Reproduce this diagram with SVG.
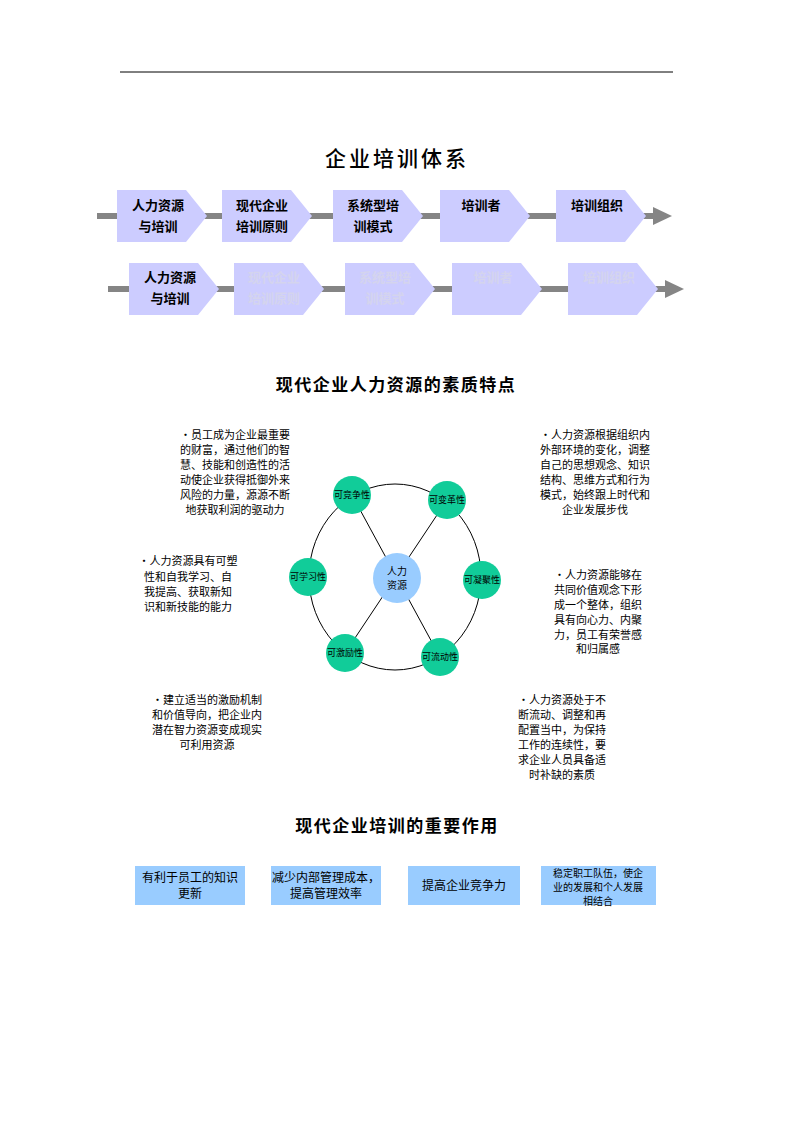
<svg xmlns="http://www.w3.org/2000/svg" width="793" height="1122" viewBox="0 0 793 1122">
<style>
text{font-family:"Noto Sans CJK SC","Liberation Sans",sans-serif;fill:#000}
.ttl{font-weight:bold;text-anchor:middle;font-size:17px;letter-spacing:1.5px}
.main{font-weight:500;text-anchor:middle;font-size:21px;letter-spacing:3px}
.chev{fill:#ccccff}
.ct{font-size:13px;font-weight:bold;text-anchor:middle}
.fade{fill:#d4d4ee}
.arrline{stroke:#858585;stroke-width:6;fill:none}
.arrhead{fill:#858585}
.thin{stroke:#000;stroke-width:1;fill:none}
.grn{fill:#11cc99}
.cl{font-size:9px;text-anchor:middle}
.cc{font-size:10px;text-anchor:middle}
.blk{font-size:11px;text-anchor:middle}
.box{fill:#99ccff}
.bt{font-size:12px;text-anchor:middle}
.bs{font-size:10px;text-anchor:middle}
</style>
<line x1="120" y1="72" x2="673" y2="72" stroke="#000" stroke-width="1"/>
<text class="main" x="397" y="166">企业培训体系</text>
<g id="connectors">
<line class="arrline" x1="97" y1="216" x2="656" y2="216"/>
<polygon class="arrhead" points="653,207 672,216 653,225"/>
<line class="arrline" x1="108" y1="289" x2="667" y2="289"/>
<polygon class="arrhead" points="665,280 684,289 665,298"/>
<ellipse class="thin" cx="395" cy="577" rx="86" ry="93"/>
<line class="thin" x1="352" y1="495" x2="440" y2="657"/>
<line class="thin" x1="447" y1="500" x2="345" y2="653"/>
</g>
<g id="r1n1"><polygon class="chev" points="117,190 186,190 207,216 186,242 117,242"/><text class="ct" x="158" y="210">人力资源</text><text class="ct" x="158" y="231">与培训</text></g>
<g id="r1n2"><polygon class="chev" points="222,190 291,190 312,216 291,242 222,242"/><text class="ct" x="262" y="210">现代企业</text><text class="ct" x="262" y="231">培训原则</text></g>
<g id="r1n3"><polygon class="chev" points="333,190 402,190 423,216 402,242 333,242"/><text class="ct" x="373" y="210">系统型培</text><text class="ct" x="373" y="231">训模式</text></g>
<g id="r1n4"><polygon class="chev" points="440,190 509,190 530,216 509,242 440,242"/><text class="ct" x="481" y="210">培训者</text></g>
<g id="r1n5"><polygon class="chev" points="556,190 625,190 646,216 625,242 556,242"/><text class="ct" x="597" y="210">培训组织</text></g>
<g id="r2n1"><polygon class="chev" points="129,263 198,263 219,289 198,315 129,315"/><text class="ct" x="170" y="282">人力资源</text><text class="ct" x="170" y="303">与培训</text></g>
<g id="r2n2"><polygon class="chev" points="234,263 303,263 324,289 303,315 234,315"/><text class="ct fade" x="274" y="282">现代企业</text><text class="ct fade" x="274" y="303">培训原则</text></g>
<g id="r2n3"><polygon class="chev" points="345,263 414,263 435,289 414,315 345,315"/><text class="ct fade" x="385" y="282">系统型培</text><text class="ct fade" x="385" y="303">训模式</text></g>
<g id="r2n4"><polygon class="chev" points="452,263 521,263 542,289 521,315 452,315"/><text class="ct fade" x="493" y="282">培训者</text></g>
<g id="r2n5"><polygon class="chev" points="568,263 637,263 658,289 637,315 568,315"/><text class="ct fade" x="609" y="282">培训组织</text></g>
<text class="ttl" x="396" y="391">现代企业人力资源的素质特点</text>
<g id="center"><ellipse cx="397" cy="578" rx="24" ry="25" fill="#99ccff"/><text class="cc" x="397" y="575">人力</text><text class="cc" x="397" y="589">资源</text></g>
<g id="c1"><circle class="grn" cx="352" cy="495" r="19"/><text class="cl" x="352" y="498">可竞争性</text></g>
<g id="c2"><circle class="grn" cx="447" cy="500" r="19"/><text class="cl" x="447" y="503">可变革性</text></g>
<g id="c3"><circle class="grn" cx="482" cy="580" r="19"/><text class="cl" x="482" y="583">可凝聚性</text></g>
<g id="c4"><circle class="grn" cx="440" cy="657" r="19"/><text class="cl" x="440" y="660">可流动性</text></g>
<g id="c5"><circle class="grn" cx="345" cy="653" r="19"/><text class="cl" x="345" y="656">可激励性</text></g>
<g id="c6"><circle class="grn" cx="308" cy="577" r="19"/><text class="cl" x="308" y="580">可学习性</text></g>
<g id="t1"><text class="blk" x="235" y="439">•员工成为企业最重要</text><text class="blk" x="235" y="454">的财富，通过他们的智</text><text class="blk" x="235" y="469">慧、技能和创造性的活</text><text class="blk" x="235" y="484">动使企业获得抵御外来</text><text class="blk" x="235" y="499">风险的力量，源源不断</text><text class="blk" x="235" y="514">地获取利润的驱动力</text></g>
<g id="t2"><text class="blk" x="595" y="439">•人力资源根据组织内</text><text class="blk" x="595" y="454">外部环境的变化，调整</text><text class="blk" x="595" y="469">自己的思想观念、知识</text><text class="blk" x="595" y="484">结构、思维方式和行为</text><text class="blk" x="595" y="499">模式，始终跟上时代和</text><text class="blk" x="595" y="514">企业发展步伐</text></g>
<g id="t3"><text class="blk" x="188" y="565">•人力资源具有可塑</text><text class="blk" x="188" y="581">性和自我学习、自</text><text class="blk" x="188" y="596">我提高、获取新知</text><text class="blk" x="188" y="611">识和新技能的能力</text></g>
<g id="t4"><text class="blk" x="598" y="579">•人力资源能够在</text><text class="blk" x="598" y="594">共同价值观念下形</text><text class="blk" x="598" y="609">成一个整体，组织</text><text class="blk" x="598" y="624">具有向心力、内聚</text><text class="blk" x="598" y="639">力，员工有荣誉感</text><text class="blk" x="598" y="653">和归属感</text></g>
<g id="t5"><text class="blk" x="207" y="704">•建立适当的激励机制</text><text class="blk" x="207" y="719">和价值导向，把企业内</text><text class="blk" x="207" y="734">潜在智力资源变成现实</text><text class="blk" x="207" y="749">可利用资源</text></g>
<g id="t6"><text class="blk" x="562" y="704">•人力资源处于不</text><text class="blk" x="562" y="719">断流动、调整和再</text><text class="blk" x="562" y="734">配置当中，为保持</text><text class="blk" x="562" y="749">工作的连续性，要</text><text class="blk" x="562" y="764">求企业人员具备适</text><text class="blk" x="562" y="779">时补缺的素质</text></g>
<text class="ttl" x="397" y="832">现代企业培训的重要作用</text>
<g id="b1"><rect class="box" x="135" y="866" width="110" height="39"/><text class="bt" x="190" y="882">有利于员工的知识</text><text class="bt" x="190" y="898">更新</text></g>
<g id="b2"><rect class="box" x="271" y="866" width="110" height="39"/><text class="bt" x="326" y="882">减少内部管理成本，</text><text class="bt" x="326" y="898">提高管理效率</text></g>
<g id="b3"><rect class="box" x="408" y="866" width="112" height="39"/><text class="bt" x="464" y="890">提高企业竞争力</text></g>
<g id="b4"><rect class="box" x="541" y="866" width="115" height="39"/><text class="bs" x="598" y="877">稳定职工队伍，使企</text><text class="bs" x="598" y="891">业的发展和个人发展</text><text class="bs" x="598" y="905">相结合</text></g>
</svg>
